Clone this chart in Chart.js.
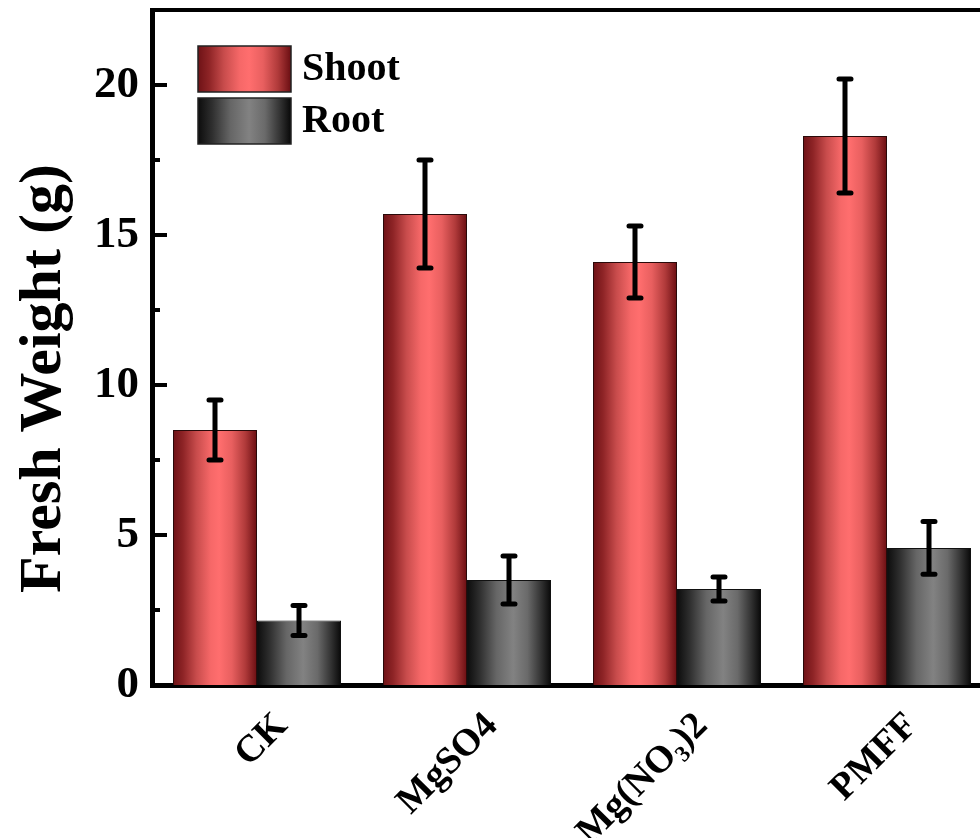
<!DOCTYPE html>
<html>
<head>
<meta charset="utf-8">
<script src="https://cdn.jsdelivr.net/npm/chart.js@4/dist/chart.umd.min.js"></script>
<style>
html,body{margin:0;padding:0;background:#fff;overflow:hidden;width:980px;height:838px;}
canvas{display:block;}
</style>
</head>
<body>
<canvas id="c" width="1000" height="838"></canvas>
<script>
const categories = ['CK', 'MgSO4', 'Mg(NO\u2083)2', 'PMFF'];
const seriesNames = ['Shoot', 'Root'];
const shootValues = [8.5, 15.7, 14.1, 18.3];
const shootErrors = [1.0, 1.8, 1.2, 1.9];
const rootValues = [2.15, 3.5, 3.2, 4.57];
const rootErrors = [0.5, 0.8, 0.4, 0.88];
const yTitle = 'Fresh Weight (g)';

const SERIF = '"Liberation Serif", "Times New Roman", serif';
const shootStops = [[0,'#6e1216'],[0.12,'#8e2426'],[0.28,'#c84c4c'],[0.45,'#f66868'],[0.55,'#ff6e6e'],[0.7,'#e85f5f'],[0.86,'#b03a3a'],[1,'#6a0e12']];
const rootStops = [[0,'#0c0c0c'],[0.15,'#2e2e2e'],[0.35,'#666'],[0.55,'#828282'],[0.72,'#6a6a6a'],[0.88,'#333'],[1,'#080808']];

function makeGrad(ctx, x0, x1, stops){
  const g = ctx.createLinearGradient(x0, 0, x1, 0);
  stops.forEach(s => g.addColorStop(s[0], s[1]));
  return g;
}

function barFill(stops){
  return function(c){
    const chart = c.chart;
    const xs = chart.scales.x;
    if (!xs || c.dataIndex === undefined || !chart.chartArea) return stops[4][1];
    const n = chart.data.labels.length;
    const cat = xs.width / n;
    const bw = cat * 0.8 / 2;
    const center = xs.getPixelForValue(c.dataIndex) + (c.datasetIndex - 0.5) * bw;
    return makeGrad(chart.ctx, center - bw/2, center + bw/2, stops);
  };
}

const errorBars = {
  id: 'errorBars',
  afterDatasetsDraw(chart){
    const ctx = chart.ctx, ys = chart.scales.y;
    const errs = [shootErrors, rootErrors];
    const vals = [shootValues, rootValues];
    ctx.save();
    ctx.strokeStyle = '#000';
    ctx.lineWidth = 5;
    ctx.lineCap = 'round';
    chart.data.datasets.forEach((ds, di) => {
      chart.getDatasetMeta(di).data.forEach((el, i) => {
        const v = vals[di][i], e = errs[di][i];
        const yt = ys.getPixelForValue(v + e), yb = ys.getPixelForValue(v - e);
        const x = el.x, cw = 6;
        ctx.beginPath();
        ctx.moveTo(x, yt); ctx.lineTo(x, yb);
        ctx.moveTo(x - cw, yt); ctx.lineTo(x + cw, yt);
        ctx.moveTo(x - cw, yb); ctx.lineTo(x + cw, yb);
        ctx.stroke();
      });
    });
    ctx.restore();
  }
};

const frame = {
  id: 'frame',
  afterDraw(chart){
    const ctx = chart.ctx, a = chart.chartArea, ys = chart.scales.y;
    ctx.save();
    ctx.strokeStyle = '#000';
    ctx.lineWidth = 4;
    ctx.beginPath();
    ctx.moveTo(a.left, a.top); ctx.lineTo(chart.width, a.top);
    ctx.stroke();
    ctx.lineWidth = 4;
    ys.ticks.forEach(t => {
      if (t.value >= ys.max) return;
      const y = ys.getPixelForValue(t.value);
      const len = (t.value % 5 === 0) ? 15 : 8;
      ctx.beginPath();
      ctx.moveTo(a.left, y); ctx.lineTo(a.left + len, y);
      ctx.stroke();
    });
    ctx.fillStyle = '#000';
    ctx.font = 'bold 60px ' + SERIF;
    ctx.textAlign = 'center';
    ctx.textBaseline = 'middle';
    ctx.translate(44, (a.top + a.bottom) / 2 + 31);
    ctx.rotate(-Math.PI / 2);
    ctx.fillText(yTitle, 0, 0);
    ctx.restore();

    ctx.save();
    const lx = a.left + 46, ly = a.top + 36, bwid = 93, bh = 46, gap = 6;
    [[seriesNames[0], shootStops], [seriesNames[1], rootStops]].forEach((it, k) => {
      const y0 = ly + k * (bh + gap);
      ctx.fillStyle = makeGrad(ctx, lx, lx + bwid, it[1]);
      ctx.fillRect(lx, y0, bwid, bh);
      ctx.strokeStyle = '#222';
      ctx.lineWidth = 1.5;
      ctx.strokeRect(lx, y0, bwid, bh);
      ctx.fillStyle = '#000';
      ctx.font = 'bold 40px ' + SERIF;
      ctx.textAlign = 'left';
      ctx.textBaseline = 'middle';
      ctx.fillText(it[0], lx + bwid + 11, y0 + bh / 2 + 1);
    });
    ctx.restore();
  }
};

new Chart(document.getElementById('c'), {
  type: 'bar',
  data: {
    labels: categories,
    datasets: [
      { label: seriesNames[0], data: shootValues, backgroundColor: barFill(shootStops), borderColor: '#2a0a0a', borderWidth: 1 },
      { label: seriesNames[1], data: rootValues, backgroundColor: barFill(rootStops), borderColor: '#111', borderWidth: 1 }
    ]
  },
  options: {
    responsive: false,
    animation: false,
    devicePixelRatio: 1,
    layout: { padding: { top: 10, right: 8, left: 0, bottom: 0 } },
    plugins: { legend: { display: false }, tooltip: { enabled: false } },
    datasets: { bar: { barPercentage: 1.0, categoryPercentage: 0.8 } },
    scales: {
      x: {
        grid: { display: false, drawTicks: false },
        border: { display: true, color: '#000', width: 5 },
        ticks: {
          color: '#000', minRotation: 45, maxRotation: 45, autoSkip: false,
          padding: 19, labelOffset: 25,
          font: { family: SERIF, size: 38, weight: 'bold' }
        },
        afterFit(s){ s.height = 838 - 685; s.paddingLeft = 0; s.paddingRight = 0; }
      },
      y: {
        min: 0, max: 22.5,
        grid: { display: false, drawTicks: false },
        border: { display: true, color: '#000', width: 5 },
        ticks: {
          stepSize: 2.5, color: '#000', padding: 13,
          font: { family: SERIF, size: 45, weight: 'bold' },
          callback: v => (v % 5 === 0 ? String(v) : '')
        },
        afterFit(s){ s.width = 152; s.paddingTop = 0; s.paddingBottom = 0; }
      }
    }
  },
  plugins: [errorBars, frame]
});
</script>
</body>
</html>
